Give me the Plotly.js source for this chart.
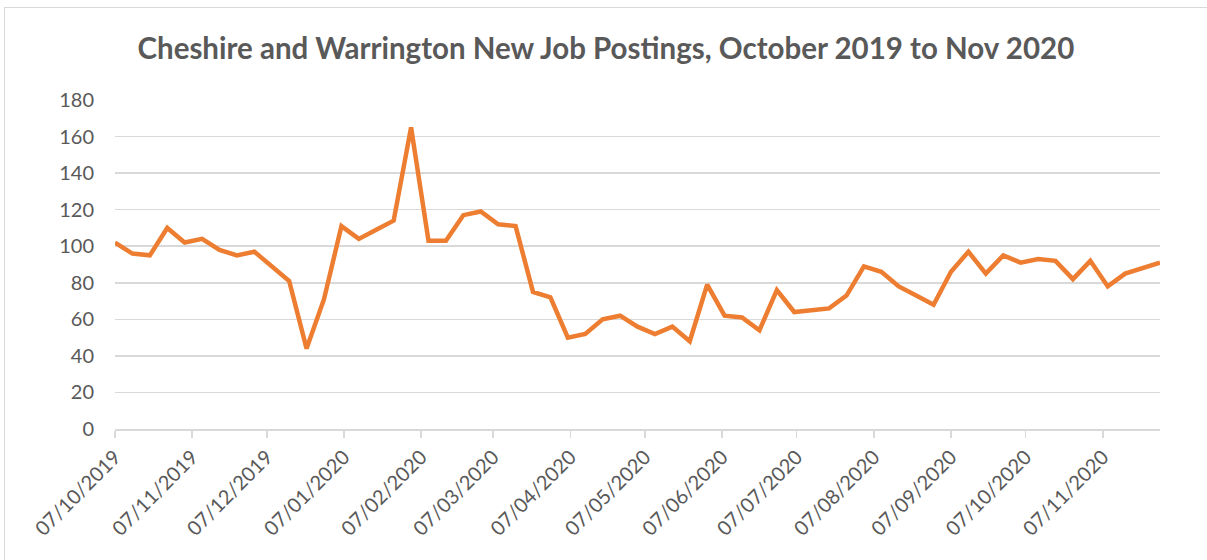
<!DOCTYPE html>
<html>
<head>
<meta charset="utf-8">
<script src="https://cdn.plot.ly/plotly-3.0.1.min.js"></script>
<style>
  html, body { margin: 0; padding: 0; background: #fff; }
  #wrap { position: relative; width: 1207px; height: 560px; }
  #chart { width: 1207px; height: 560px; }
  #frame { position: absolute; left: 4px; top: 7px; width: 1220px; height: 600px;
           border-top: 1.5px solid #d9d9d9; border-left: 1.5px solid #d9d9d9; pointer-events: none; }
</style>
</head>
<body>
<div id="wrap">
  <div id="chart"></div>
  <div id="frame"></div>
</div>
<script>
const weeks = [
  "2019-10-07","2019-10-14","2019-10-21","2019-10-28",
  "2019-11-04","2019-11-11","2019-11-18","2019-11-25",
  "2019-12-02","2019-12-09","2019-12-16","2019-12-23","2019-12-30",
  "2020-01-06","2020-01-13","2020-01-20","2020-01-27",
  "2020-02-03","2020-02-10","2020-02-17","2020-02-24",
  "2020-03-02","2020-03-09","2020-03-16","2020-03-23","2020-03-30",
  "2020-04-06","2020-04-13","2020-04-20","2020-04-27",
  "2020-05-04","2020-05-11","2020-05-18","2020-05-25",
  "2020-06-01","2020-06-08","2020-06-15","2020-06-22","2020-06-29",
  "2020-07-06","2020-07-13","2020-07-20","2020-07-27",
  "2020-08-03","2020-08-10","2020-08-17","2020-08-24","2020-08-31",
  "2020-09-07","2020-09-14","2020-09-21","2020-09-28",
  "2020-10-05","2020-10-12","2020-10-19","2020-10-26",
  "2020-11-02","2020-11-09","2020-11-16","2020-11-23","2020-11-30"
];
const postings = [
  102, 96, 95, 110, 102, 104, 98, 95, 97, 89, 81, 44, 71,
  111, 104, 109, 114, 165, 103, 103, 117, 119, 112, 111, 75,
  72, 50, 52, 60, 62, 56, 52, 56, 48, 79, 62, 61, 54, 76,
  64, 65, 66, 73, 89, 86, 78, 73, 68, 86, 97, 85, 95, 91,
  93, 92, 82, 92, 78, 85, 88, 91
];
const tickDates = [
  "2019-10-07","2019-11-07","2019-12-07","2020-01-07","2020-02-07",
  "2020-03-07","2020-04-07","2020-05-07","2020-06-07","2020-07-07",
  "2020-08-07","2020-09-07","2020-10-07","2020-11-07"
];
const yTicks = [0, 20, 40, 60, 80, 100, 120, 140, 160, 180];
const chartTitle = "Cheshire and Warrington New Job Postings, October 2019 to Nov 2020";

const FONT = "Lato, Calibri, 'Liberation Sans', sans-serif";
const GREY = "#595959";
const GRID = "#d9d9d9";

Plotly.newPlot("chart", [{
  x: weeks,
  y: postings,
  type: "scatter",
  mode: "lines",
  line: { color: "#ED7D31", width: 4.5, shape: "linear" },
  hoverinfo: "x+y"
}], {
  width: 1207,
  height: 560,
  margin: { l: 115, r: 47, t: 100, b: 131, pad: 0 },
  paper_bgcolor: "rgba(0,0,0,0)",
  plot_bgcolor: "#fff",
  showlegend: false,
  title: {
    text: chartTitle,
    font: { family: FONT, size: 29.5, color: GREY, weight: "bold" },
    xref: "container", x: 0.502, xanchor: "center",
    yref: "container", y: 1 - 49 / 560, yanchor: "middle"
  },
  xaxis: {
    type: "date",
    range: [weeks[0], weeks[weeks.length - 1]],
    tickmode: "array",
    tickvals: tickDates,
    tickformat: "%d/%m/%Y",
    tickangle: -45,
    tickfont: { family: FONT, size: 20, color: GREY },
    showgrid: false,
    zeroline: false,
    showline: true,
    linecolor: GRID,
    linewidth: 1.5,
    ticks: "outside",
    ticklen: 7,
    tickwidth: 1.5,
    tickcolor: GRID,
    fixedrange: true
  },
  yaxis: {
    range: [0, 180],
    tickmode: "array",
    tickvals: yTicks,
    tickfont: { family: FONT, size: 20, color: GREY },
    showgrid: true,
    gridcolor: GRID,
    gridwidth: 1.5,
    zeroline: false,
    showline: false,
    ticks: "",
    ticklabelstandoff: 20,
    fixedrange: true
  }
}, { displayModeBar: false, staticPlot: true });
</script>
</body>
</html>
